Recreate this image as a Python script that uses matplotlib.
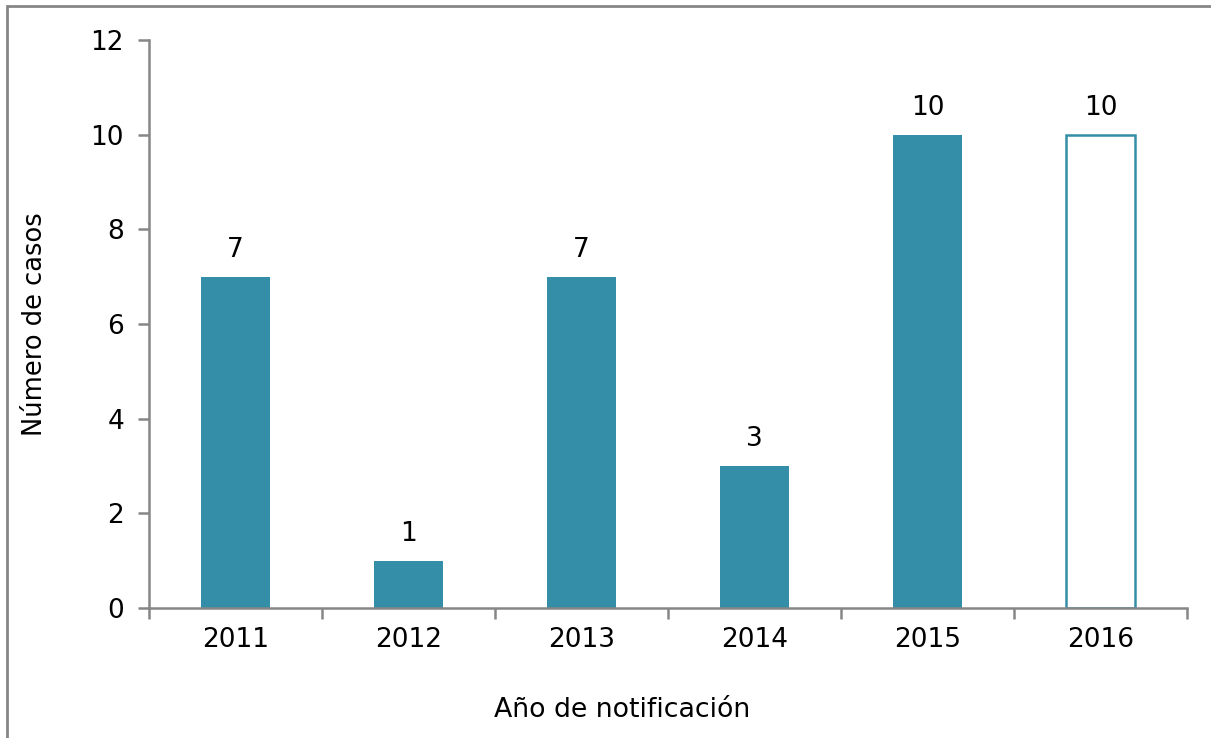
import matplotlib
matplotlib.use('Agg')
import matplotlib.pyplot as plt
from matplotlib.patches import Rectangle

# datos
years = ['2011', '2012', '2013', '2014', '2015', '2016']
cases = [7, 1, 7, 3, 10, 10]
y_ticks = [0, 2, 4, 6, 8, 10, 12]

bar_color = '#358EA7'
axis_color = '#868686'

plt.rcParams['font.family'] = ['DejaVu Sans']

W, H = 1211, 738
fig = plt.figure(figsize=(W / 100, H / 100), dpi=100)

# marco gris alrededor del gráfico (se sale por la derecha y por abajo)
fig.patches.append(Rectangle((7 / W, -0.2), 1.2, 1.2 - 6 / H, transform=fig.transFigure,
                             fill=False, edgecolor=axis_color, linewidth=2))

ax = fig.add_axes([149 / W, (H - 608) / H, (1187 - 149) / W, (608 - 40) / H])

x = list(range(len(years)))
for i, (xi, v) in enumerate(zip(x, cases)):
    if i == len(years) - 1:
        ax.bar(xi, v, width=0.4, facecolor='white', edgecolor=bar_color, linewidth=1.8)
    else:
        ax.bar(xi, v, width=0.4, color=bar_color)
    ax.annotate(str(v), (xi, v), xytext=(0, 10), textcoords='offset points',
                ha='center', va='bottom', fontsize=19)

ax.set_xlim(-0.5, len(years) - 0.5)
ax.set_ylim(0, 12)
ax.set_yticks(y_ticks)
ax.set_xticks(x)
ax.set_xticklabels(years)
ax.set_xticks([i - 0.5 for i in range(len(years) + 1)], minor=True)

for s in ['top', 'right']:
    ax.spines[s].set_visible(False)
for s in ['left', 'bottom']:
    ax.spines[s].set_color(axis_color)
    ax.spines[s].set_linewidth(1.8)

ax.tick_params(axis='x', which='major', length=0, labelsize=19, pad=14)
ax.tick_params(axis='x', which='minor', length=8, width=1.8, color=axis_color, direction='out')
ax.tick_params(axis='y', length=8, width=1.8, color=axis_color, labelsize=19, pad=10)

fig.text(35 / W, 1 - 324 / H, 'Número de casos', rotation=90, ha='center', va='center', fontsize=18.5)
fig.text(622 / W, 1 - 710 / H, 'Año de notificación', ha='center', va='center', fontsize=19.3)

plt.savefig('out.png', dpi=100)
plt.close()
